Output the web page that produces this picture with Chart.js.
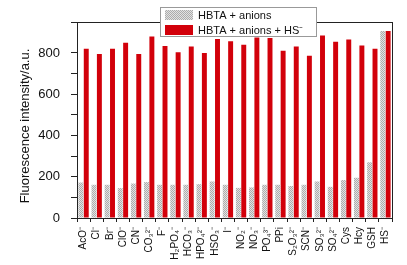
<!DOCTYPE html>
<html>
<head>
<meta charset="utf-8">
<script src="https://cdn.jsdelivr.net/npm/chart.js@4"></script>
<style>
  html, body { margin: 0; padding: 0; background: #fff; }
  #wrap { width: 407px; height: 265px; }
</style>
</head>
<body>
<div id="wrap"><canvas id="barChart" width="407" height="265"></canvas></div>
<script>
// Analytes along the x axis
const analytes = ['AcO⁻', 'Cl⁻', 'Br⁻', 'ClO⁻', 'CN⁻', 'CO₃²⁻', 'F⁻', 'H₂PO₄⁻', 'HCO₃⁻', 'HPO₄²⁻', 'HSO₃⁻', 'I⁻',
    'NO₂⁻', 'NO₃⁻', 'PO₄³⁻', 'PPi', 'S₂O₃²⁻', 'SCN⁻', 'SO₃²⁻', 'SO₄²⁻', 'Cys', 'Hcy', 'GSH', 'HS⁻'];

// Fluorescence, probe + anion alone
const anionsOnly = [172, 161, 161, 145, 167, 174, 161, 161, 161, 164, 177, 161,
    146, 148, 161, 161, 155, 161, 177, 151, 184, 195, 270, 906];

// Fluorescence, probe + anion then HS-
const anionsPlusHS = [820, 795, 820, 849, 795, 880, 834, 803, 831, 800, 867, 857,
    840, 875, 872, 811, 831, 787, 885, 854, 865, 836, 820, 906];

const seriesNames = ['HBTA + anions', 'HBTA + anions + HS⁻'];
const yTicksShown = [0, 200, 400, 600, 800];
const yTitle = 'Fluorescence intensity/a.u.';

const font_family = '"Liberation Sans", Arial, sans-serif';
const red = '#d2000a';

// checkered gray fill for the first series
function makeChecker() {
    const c = document.createElement('canvas');
    c.width = 2; c.height = 2;
    const g = c.getContext('2d');
    g.fillStyle = '#e2e2e2';
    g.fillRect(0, 0, 2, 2);
    g.fillStyle = '#acacac';
    g.fillRect(0, 0, 1, 1);
    g.fillRect(1, 1, 1, 1);
    return g.createPattern(c, 'repeat');
}
const checker = makeChecker();

// frame box round the plot area, y title and legend box
const framePlugin = {
    id: 'frame',
    afterDraw(chart) {
        const { ctx, chartArea: a } = chart;
        ctx.save();
        ctx.strokeStyle = '#222';
        ctx.lineWidth = 1;
        ctx.strokeRect(Math.round(a.left) + 0.5, Math.round(a.top) + 0.5,
            Math.round(a.right - a.left), Math.round(a.bottom - a.top));

        // y title
        ctx.save();
        ctx.translate(25, 126);
        ctx.rotate(-Math.PI / 2);
        ctx.fillStyle = '#111';
        ctx.font = '13px ' + font_family;
        ctx.textAlign = 'center';
        ctx.textBaseline = 'middle';
        ctx.fillText(yTitle, 0, 0);
        ctx.restore();

        // legend
        const lx = 160, ly = 7, lw = 156, lh = 29;
        ctx.fillStyle = '#fff';
        ctx.fillRect(lx, ly, lw, lh);
        ctx.strokeStyle = '#999';
        ctx.strokeRect(lx + 0.5, ly + 0.5, lw, lh);
        ctx.fillStyle = checker;
        ctx.fillRect(165, 10, 28, 10);
        ctx.fillStyle = red;
        ctx.fillRect(165, 25, 28, 10);
        ctx.fillStyle = '#111';
        ctx.font = '11px ' + font_family;
        ctx.textBaseline = 'middle';
        ctx.fillText(seriesNames[0], 198, 15.5);
        ctx.fillText(seriesNames[1], 198, 30.5);
        ctx.restore();
    }
};

const config = {
    type: 'bar',
    data: {
        labels: analytes,
        datasets: [
            {
                label: seriesNames[0],
                data: anionsOnly,
                backgroundColor: checker,
                categoryPercentage: 0.82,
                barPercentage: 0.92
            },
            {
                label: seriesNames[1],
                data: anionsPlusHS,
                backgroundColor: red,
                categoryPercentage: 0.82,
                barPercentage: 0.92
            }
        ]
    },
    options: {
        responsive: false,
        animation: false,
        layout: { padding: { top: 22, right: 15, left: 0, bottom: 0 } },
        plugins: {
            legend: { display: false },
            tooltip: { enabled: false }
        },
        scales: {
            x: {
                grid: { drawOnChartArea: false, color: '#222', tickLength: 4, offset: true },
                border: { color: '#222' },
                ticks: {
                    autoSkip: false,
                    maxRotation: 90,
                    minRotation: 90,
                    padding: 5,
                    color: '#111',
                    font: { family: font_family, size: 10 }
                },
                afterFit(axis) { axis.height = 47; }
            },
            y: {
                min: 0,
                max: 950,
                grid: { drawOnChartArea: false, color: '#222', tickLength: 6 },
                border: { color: '#222' },
                ticks: {
                    stepSize: 100,
                    color: '#111',
                    padding: 11,
                    font: { family: font_family, size: 13 },
                    callback: v => yTicksShown.includes(v) ? v : ''
                },
                afterFit(axis) { axis.width = 77; }
            }
        }
    },
    plugins: [framePlugin]
};

new Chart(document.getElementById('barChart'), config);
</script>
</body>
</html>
